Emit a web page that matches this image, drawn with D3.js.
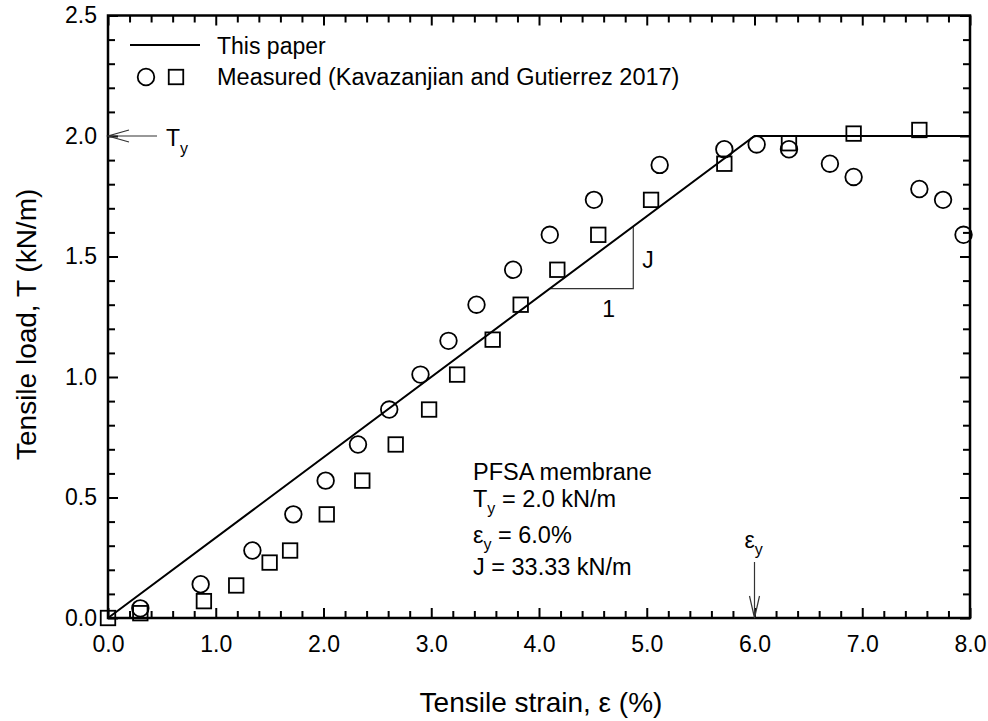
<!DOCTYPE html>
<html>
<head>
<meta charset="utf-8">
<title>Tensile load vs strain</title>
<style>
  body { margin: 0; background: #fff; }
  svg text { font-family: "Liberation Sans", Arial, sans-serif; fill: #000; }
</style>
</head>
<body>
<svg></svg>
<script src="https://d3js.org/d3.v7.min.js"></script>
<script>
// measured data, circles (test 1)
const circleStrain = [0.30, 0.86, 1.34, 1.72, 2.02, 2.32, 2.61, 2.90, 3.16, 3.42, 3.76, 4.10, 4.51, 5.12, 5.72, 6.02, 6.32, 6.70, 6.92, 7.53, 7.75, 7.94];
const circleLoad   = [0.04, 0.14, 0.28, 0.43, 0.57, 0.72, 0.865, 1.01, 1.15, 1.30, 1.445, 1.59, 1.735, 1.88, 1.945, 1.965, 1.945, 1.885, 1.83, 1.78, 1.735, 1.59];

// measured data, squares (test 2)
const squareStrain = [0, 0.30, 0.89, 1.19, 1.50, 1.69, 2.03, 2.36, 2.67, 2.98, 3.24, 3.57, 3.83, 4.17, 4.55, 5.04, 5.72, 6.32, 6.92, 7.53];
const squareLoad   = [0, 0.02, 0.07, 0.135, 0.23, 0.28, 0.43, 0.57, 0.72, 0.865, 1.01, 1.155, 1.30, 1.445, 1.59, 1.735, 1.885, 1.97, 2.01, 2.025];

// model: elastic - perfectly plastic
const modelStrain = [0, 6.0, 8.0];
const modelLoad   = [0, 2.0, 2.0];

const xMajor = [0, 1, 2, 3, 4, 5, 6, 7, 8];
const yMajor = [0, 0.5, 1.0, 1.5, 2.0, 2.5];

const Ty = 2.0, ey = 6.0;
const slopeX = [4.10, 4.875]; // J triangle base

let width = 988, height = 721;
let margin = {left: 108, right: 18, top: 15.5, bottom: 103};

let svg = d3.select("svg")
    .attr("width", width)
    .attr("height", height);

let x = d3.scaleLinear().domain([0, 8]).range([margin.left, width - margin.right]);
let y = d3.scaleLinear().domain([0, 2.5]).range([height - margin.bottom, margin.top]);

let xMinor = d3.range(0, 8.001, 0.2).map(d => +d.toFixed(1)).filter(d => !xMajor.includes(d));
let yMinor = d3.range(0, 2.501, 0.1).map(d => +d.toFixed(1)).filter(d => !yMajor.includes(d));

function styleAxis(g) {
    g.select(".domain").remove();
    g.selectAll("line").attr("stroke", "#000").attr("stroke-width", 2);
    g.selectAll("text").style("font-size", "23px").attr("fill", "#000")
        .style("font-family", "'Liberation Sans', Arial, sans-serif");
}

// bottom axis
svg.append("g").attr("transform", "translate(0," + y(0) + ")")
    .call(d3.axisBottom(x).tickValues(xMajor).tickSize(-10).tickPadding(18).tickFormat(d3.format(".1f")))
    .call(styleAxis);
svg.append("g").attr("transform", "translate(0," + y(0) + ")")
    .call(d3.axisBottom(x).tickValues(xMinor).tickSize(-7).tickFormat(""))
    .call(styleAxis);
// top axis
svg.append("g").attr("transform", "translate(0," + y(2.5) + ")")
    .call(d3.axisTop(x).tickValues(xMajor).tickSize(-10).tickFormat(""))
    .call(styleAxis);
svg.append("g").attr("transform", "translate(0," + y(2.5) + ")")
    .call(d3.axisTop(x).tickValues(xMinor).tickSize(-7).tickFormat(""))
    .call(styleAxis);
// left axis
svg.append("g").attr("transform", "translate(" + x(0) + ",0)")
    .call(d3.axisLeft(y).tickValues(yMajor).tickSize(-10).tickPadding(11).tickFormat(d3.format(".1f")))
    .call(styleAxis);
svg.append("g").attr("transform", "translate(" + x(0) + ",0)")
    .call(d3.axisLeft(y).tickValues(yMinor).tickSize(-7).tickFormat(""))
    .call(styleAxis);
// right axis
svg.append("g").attr("transform", "translate(" + x(8) + ",0)")
    .call(d3.axisRight(y).tickValues(yMajor).tickSize(-10).tickFormat(""))
    .call(styleAxis);
svg.append("g").attr("transform", "translate(" + x(8) + ",0)")
    .call(d3.axisRight(y).tickValues(yMinor).tickSize(-7).tickFormat(""))
    .call(styleAxis);

// frame
svg.append("rect")
    .attr("x", x(0)).attr("y", y(2.5))
    .attr("width", x(8) - x(0)).attr("height", y(0) - y(2.5))
    .attr("fill", "none").attr("stroke", "#000").attr("stroke-width", 2.5);

// axis titles
svg.append("text")
    .attr("x", (x(0) + x(8)) / 2 + 2).attr("y", 712)
    .attr("text-anchor", "middle").style("font-size", "28px")
    .text("Tensile strain, ε (%)");
svg.append("text")
    .attr("transform", "translate(36,460) rotate(-90)")
    .style("font-size", "28px")
    .text("Tensile load, T (kN/m)");

// slope triangle
let t0 = slopeX[0], t1 = slopeX[1];
svg.append("path")
    .attr("d", "M" + x(t0) + "," + y(t0 * Ty / ey) + "H" + x(t1) + "V" + y(t1 * Ty / ey))
    .attr("fill", "none").attr("stroke", "#333").attr("stroke-width", 1.2);
svg.append("text").attr("x", x((t0 + t1) / 2) + 17).attr("y", y(t0 * Ty / ey) + 28)
    .attr("text-anchor", "middle").style("font-size", "23px").text("1");
svg.append("text").attr("x", x(t1) + 9).attr("y", y((t0 + t1) / 2 * Ty / ey) + 10)
    .style("font-size", "23px").text("J");

// model line
let line = d3.line().x(d => x(d[0])).y(d => y(d[1]));
svg.append("path")
    .datum(d3.zip(modelStrain, modelLoad))
    .attr("d", line)
    .attr("fill", "none").attr("stroke", "#000").attr("stroke-width", 2);

// measured points
svg.append("g").selectAll("circle")
    .data(d3.zip(circleStrain, circleLoad))
    .enter().append("circle")
    .attr("cx", d => x(d[0])).attr("cy", d => y(d[1])).attr("r", 8.3)
    .attr("fill", "none").attr("stroke", "#000").attr("stroke-width", 1.8);

let sq = 14.5;
svg.append("g").selectAll("rect")
    .data(d3.zip(squareStrain, squareLoad))
    .enter().append("rect")
    .attr("x", d => x(d[0]) - sq / 2).attr("y", d => y(d[1]) - sq / 2)
    .attr("width", sq).attr("height", sq)
    .attr("fill", "none").attr("stroke", "#000").attr("stroke-width", 1.8);

// Ty arrow on left axis
let ty = y(Ty);
svg.append("path")
    .attr("d", "M" + x(0) + "," + ty + "H" + (x(0) + 49) +
        "M" + (x(0) + 21) + "," + (ty - 6) + "L" + x(0) + "," + ty + "L" + (x(0) + 21) + "," + (ty + 6))
    .attr("fill", "none").attr("stroke", "#333").attr("stroke-width", 1.2);
let tyLabel = svg.append("text").attr("x", x(0) + 58).attr("y", ty + 10).style("font-size", "23px");
tyLabel.append("tspan").text("T");
tyLabel.append("tspan").attr("dy", 8).style("font-size", "16px").text("y");

// ey arrow on bottom axis
let ex = x(ey);
svg.append("path")
    .attr("d", "M" + ex + "," + (y(0) - 56) + "V" + y(0) +
        "M" + (ex - 5) + "," + (y(0) - 22) + "L" + ex + "," + y(0) + "L" + (ex + 5) + "," + (y(0) - 22))
    .attr("fill", "none").attr("stroke", "#333").attr("stroke-width", 1.2);
let eyLabel = svg.append("text").attr("x", ex - 10).attr("y", y(0) - 70).style("font-size", "23px");
eyLabel.append("tspan").text("ε");
eyLabel.append("tspan").attr("dy", 7).style("font-size", "16px").text("y");

// legend
let lg = svg.append("g");
lg.append("line").attr("x1", 130).attr("x2", 200).attr("y1", 45).attr("y2", 45)
    .attr("stroke", "#000").attr("stroke-width", 2);
lg.append("text").attr("x", 217).attr("y", 54).style("font-size", "23px").text("This paper");
lg.append("circle").attr("cx", 146).attr("cy", 77).attr("r", 8.3)
    .attr("fill", "none").attr("stroke", "#000").attr("stroke-width", 1.8);
lg.append("rect").attr("x", 176 - sq / 2).attr("y", 77 - sq / 2).attr("width", sq).attr("height", sq)
    .attr("fill", "none").attr("stroke", "#000").attr("stroke-width", 1.8);
lg.append("text").attr("x", 217).attr("y", 85).style("font-size", "23.5px")
    .text("Measured (Kavazanjian and Gutierrez 2017)");

// material properties
let note = svg.append("g").style("font-size", "23.5px");
note.append("text").attr("x", 473).attr("y", 480).text("PFSA membrane");
let n2 = note.append("text").attr("x", 473).attr("y", 507);
n2.append("tspan").text("T");
n2.append("tspan").attr("dy", 7).style("font-size", "16px").text("y");
n2.append("tspan").attr("dy", -7).text(" = 2.0 kN/m");
let n3 = note.append("text").attr("x", 473).attr("y", 543);
n3.append("tspan").text("ε");
n3.append("tspan").attr("dy", 7).style("font-size", "16px").text("y");
n3.append("tspan").attr("dy", -7).text(" = 6.0%");
note.append("text").attr("x", 473).attr("y", 575).text("J = 33.33 kN/m");
</script>
</body>
</html>
